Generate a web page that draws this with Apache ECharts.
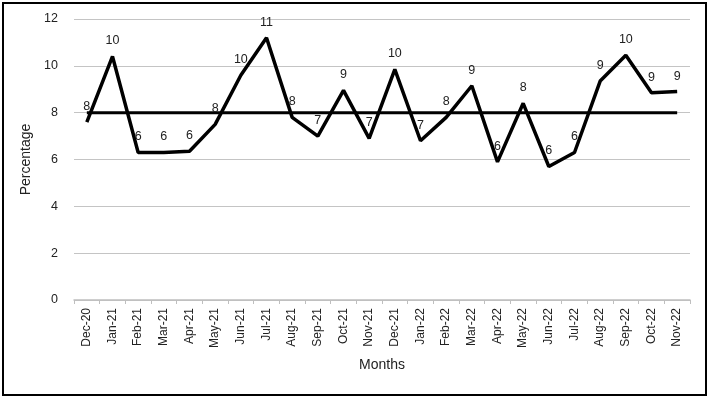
<!DOCTYPE html>
<html lang="en">
<head>
<meta charset="UTF-8">
<title>Percentage by month</title>
<style>
html,body{margin:0;padding:0;background:#fff;}
#frame{position:absolute;left:2px;top:2px;width:701px;height:390px;border:2px solid #000;}
#chart{position:absolute;left:0;top:0;width:709px;height:398px;}
</style>
</head>
<body>
<div id="frame"></div>
<div id="chart"></div>
<script src="https://cdn.jsdelivr.net/npm/echarts@6/dist/echarts.min.js"></script>
<script>
var months = ['Dec-20','Jan-21','Feb-21','Mar-21','Apr-21','May-21','Jun-21','Jul-21','Aug-21','Sep-21','Oct-21','Nov-21',
	'Dec-21','Jan-22','Feb-22','Mar-22','Apr-22','May-22','Jun-22','Jul-22','Aug-22','Sep-22','Oct-22','Nov-22'];
var percentage = [7.6, 10.4, 6.3, 6.3, 6.35, 7.5, 9.6, 11.2, 7.8, 7.0, 8.95, 6.9,
	9.85, 6.8, 7.8, 9.15, 5.9, 8.4, 5.7, 6.3, 9.35, 10.45, 8.85, 8.9];
var reference = 8;
var refLine = months.map(function(){ return reference; });

var myChart = echarts.init(document.getElementById('chart'));
var font = 'Liberation Sans, Arial, sans-serif';

var option = {
	animation: false,
	grid: { left: 74, right: 19, top: 19, bottom: 98 },
	xAxis: {
		type: 'category',
		data: months,
		name: 'Months',
		nameLocation: 'middle',
		nameGap: 58,
		nameTextStyle: { fontSize: 14, color: '#222', fontFamily: font },
		axisLine: { lineStyle: { color: '#bfbfbf', width: 1.5 } },
		axisTick: { show: true, length: 4, lineStyle: { color: '#bfbfbf' } },
		axisLabel: { rotate: 90, fontSize: 12, color: '#222', fontFamily: font, margin: 8 }
	},
	yAxis: {
		type: 'value',
		min: 0, max: 12, interval: 2,
		name: 'Percentage',
		nameLocation: 'middle',
		nameGap: 36,
		nameTextStyle: { fontSize: 14, color: '#222', fontFamily: font },
		axisLine: { show: false },
		axisTick: { show: false },
		axisLabel: { fontSize: 12.5, color: '#222', fontFamily: font, margin: 16 },
		splitLine: { lineStyle: { color: '#c4c4c4', width: 1.2 } }
	},
	series: [{
		name: 'Percentage',
		type: 'line',
		data: percentage,
		symbol: 'circle',
		symbolSize: 0,
		showSymbol: true,
		itemStyle: { color: '#000' },
		lineStyle: { color: '#000', width: 3.5 },
		label: {
			show: true,
			position: 'top',
			distance: 9,
			fontSize: 12.5,
			color: '#222',
			fontFamily: font,
			formatter: function(p){ return Math.round(p.value); }
		}
	}, {
		name: 'Reference',
		type: 'line',
		data: refLine,
		symbol: 'none',
		lineStyle: { color: '#000', width: 3 },
		z: 1
	}]
};
myChart.setOption(option);
</script>
</body>
</html>
